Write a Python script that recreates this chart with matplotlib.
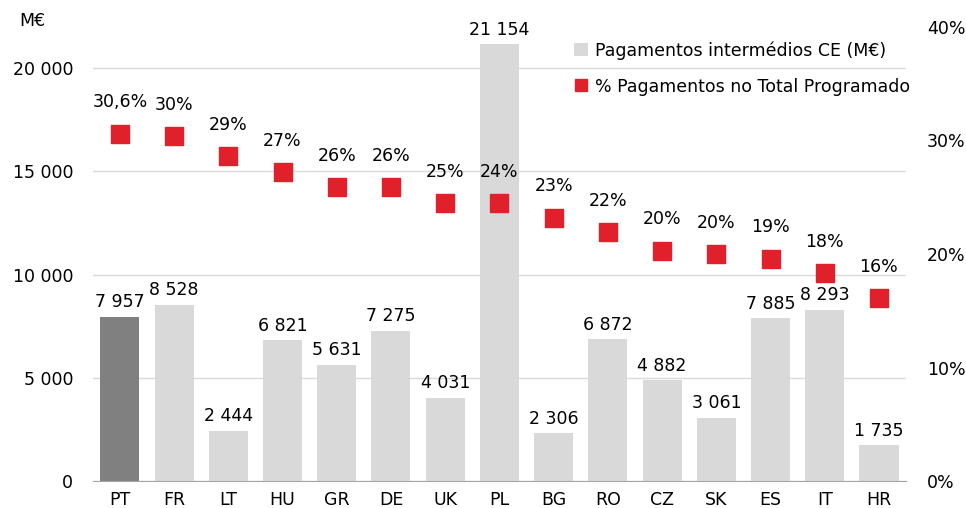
import matplotlib
matplotlib.use("Agg")
import matplotlib.pyplot as plt
from matplotlib.lines import Line2D
from matplotlib.patches import Patch

countries = ["PT", "FR", "LT", "HU", "GR", "DE", "UK", "PL", "BG", "RO", "CZ", "SK", "ES", "IT", "HR"]
payments = [7957, 8528, 2444, 6821, 5631, 7275, 4031, 21154, 2306, 6872, 4882, 3061, 7885, 8293, 1735]
pct_values = [30.6, 30.4, 28.6, 27.2, 25.9, 25.9, 24.5, 24.5, 23.2, 21.9, 20.3, 20.0, 19.6, 18.3, 16.1]
pct_labels = ["30,6%", "30%", "29%", "27%", "26%", "26%", "25%", "24%", "23%", "22%", "20%", "20%", "19%", "18%", "16%"]
left_ticks = [0, 5000, 10000, 15000, 20000]
right_ticks = [0, 10, 20, 30, 40]

FS = 12.5
plt.rcParams['font.family'] = ['DejaVu Sans']
fig = plt.figure(figsize=(9.66, 5.08), dpi=100)
ax = fig.add_axes([0.096, 0.053, 0.842, 0.894])

x = list(range(len(countries)))
colors = ["#808080"] + ["#d9d9d9"] * (len(countries) - 1)
ax.bar(x, payments, width=0.72, color=colors, zorder=2)
ax.set_xlim(-0.5, len(countries) - 0.5)
ax.set_ylim(0, 22000)
ax.set_yticks(left_ticks)
ax.set_yticklabels([f"{v:,}".replace(",", " ") for v in left_ticks])
ax.yaxis.grid(True, color="#d9d9d9", linewidth=1, zorder=0)
ax.set_axisbelow(True)
ax.set_xticks(x)
ax.set_xticklabels(countries)
for s in ["top", "right", "left"]:
    ax.spines[s].set_visible(False)
ax.spines["bottom"].set_color("#a6a6a6")
ax.tick_params(axis="both", length=0, labelsize=FS, colors="black")
ax.tick_params(axis="x", pad=7)
ax.tick_params(axis="y", pad=14)

for xi, v in zip(x, payments):
    ax.annotate(f"{v:,}".replace(",", " "), (xi, v), xytext=(0, 4), textcoords="offset points",
                ha="center", va="bottom", fontsize=FS)

ax2 = ax.twinx()
ax2.set_ylim(0, 40)
ax2.set_yticks(right_ticks)
ax2.set_yticklabels([f"{v}%" for v in right_ticks])
for s in ax2.spines.values():
    s.set_visible(False)
ax2.tick_params(axis="y", length=0, labelsize=FS, pad=15)
ax2.scatter(x, pct_values, marker="s", s=150, color="#e0202a", zorder=3)
for xi, v, lab in zip(x, pct_values, pct_labels):
    ax2.annotate(lab, (xi, v), xytext=(0, 16), textcoords="offset points",
                 ha="center", va="bottom", fontsize=FS)

fig.text(0.02, 0.958, "M€", fontsize=FS, ha="left", va="center")

handles = [Patch(facecolor="#d9d9d9", edgecolor="none"),
           Line2D([], [], marker="s", linestyle="none", color="#e0202a", markersize=9)]
fig.legend(handles, ["Pagamentos intermédios CE (M€)", "% Pagamentos no Total Programado"],
           loc="upper left", bbox_to_anchor=(0.578, 0.95), frameon=False, fontsize=FS,
           handlelength=0.8, handleheight=0.8, handletextpad=0.4, labelspacing=1.05)

fig.savefig("out.png", dpi=100)
